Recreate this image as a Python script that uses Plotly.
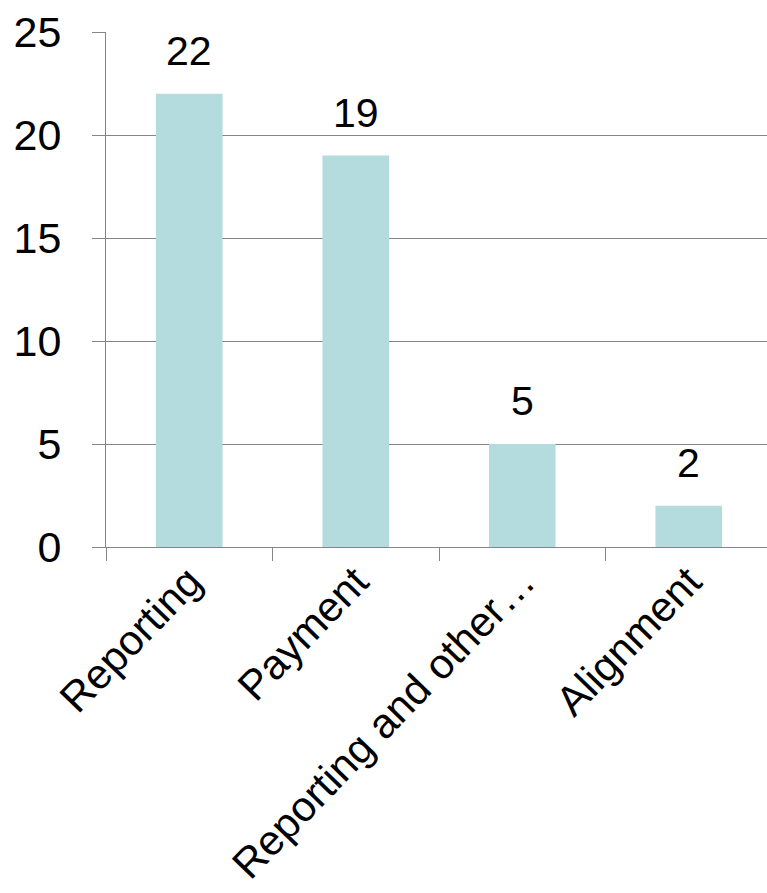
import plotly.graph_objects as go

categories = ["Reporting", "Payment", "Reporting and other…", "Alignment"]
values = [22, 19, 5, 2]
y_ticks = [0, 5, 10, 15, 20, 25]

bar_color = "#b4dbde"
grid_color = "#858585"
font_family = "Liberation Sans, Arial, sans-serif"

fig = go.Figure()
fig.add_trace(go.Bar(
    x=categories, y=values, marker_color=bar_color, marker_line_width=0,
    width=0.4,
))
for c, v in zip(categories, values):
    fig.add_annotation(x=c, y=v, text=str(v), showarrow=False, yanchor="bottom",
                       yshift=18, font=dict(size=41, color="black", family=font_family))

fig.update_layout(
    width=767, height=893,
    margin=dict(l=106, r=0, t=32, b=346),
    plot_bgcolor="white", paper_bgcolor="white",
    showlegend=False,
    font=dict(family=font_family, color="black"),
    xaxis=dict(
        range=[-0.5, 3.47], showgrid=False, showline=True, linecolor=grid_color,
        linewidth=1, ticks="outside", tickson="boundaries", ticklen=13,
        tickcolor=grid_color, tickangle=-46, tickfont=dict(size=42),
        ticklabelstandoff=-8, automargin=False,
    ),
    yaxis=dict(
        range=[0, 25], tickvals=y_ticks, showgrid=True, gridcolor=grid_color,
        gridwidth=1, showline=True, linecolor=grid_color, linewidth=1,
        ticks="outside", ticklen=13, tickcolor=grid_color,
        tickfont=dict(size=43), ticklabelstandoff=22, zeroline=False,
        automargin=False,
    ),
)
fig.write_html("out.html")
